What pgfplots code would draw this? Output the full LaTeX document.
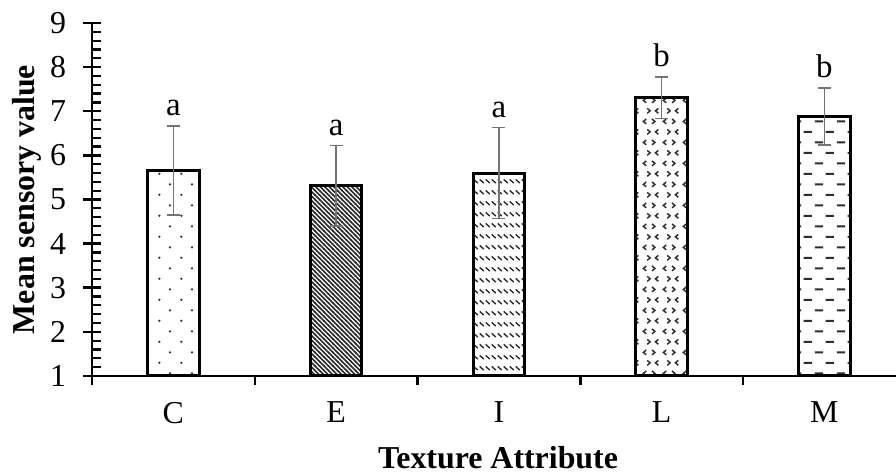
\documentclass[border=0pt]{standalone}
\usepackage{fontspec}
\setmainfont{Liberation Serif}
\usepackage{pgfplots}
\pgfplotsset{compat=1.18}
\usetikzlibrary{patterns}

\definecolor{patgray}{RGB}{45,45,45}
\definecolor{errgray}{RGB}{115,115,115}

% C: sparse staggered dots
\pgfdeclarepatternformonly{sdots}{\pgfqpoint{0bp}{0bp}}{\pgfqpoint{22bp}{21.4bp}}{\pgfqpoint{22bp}{21.4bp}}{%
  \pgfpathcircle{\pgfqpoint{5.5bp}{5.35bp}}{1.3bp}%
  \pgfpathcircle{\pgfqpoint{16.5bp}{16.05bp}}{1.3bp}%
  \pgfusepath{fill}}
% E: dense back-diagonal lines
\pgfdeclarepatternformonly{bdiag}{\pgfqpoint{-1bp}{-1bp}}{\pgfqpoint{5.5bp}{5.5bp}}{\pgfqpoint{4.5bp}{4.5bp}}{%
  \pgfsetlinewidth{1.5bp}%
  \pgfpathmoveto{\pgfqpoint{-0.5bp}{5bp}}\pgfpathlineto{\pgfqpoint{5bp}{-0.5bp}}%
  \pgfusepath{stroke}}
% I: dashed back-diagonal strokes
\pgfdeclarepatternformonly{dbdiag}{\pgfqpoint{0bp}{0bp}}{\pgfqpoint{5.7bp}{11bp}}{\pgfqpoint{5.7bp}{11bp}}{%
  \pgfsetlinewidth{1.5bp}%
  \pgfpathmoveto{\pgfqpoint{0.8bp}{9.4bp}}\pgfpathlineto{\pgfqpoint{4.9bp}{5.3bp}}%
  \pgfusepath{stroke}}
% L: chevrons
\pgfdeclarepatternformonly{chev}{\pgfqpoint{0bp}{0bp}}{\pgfqpoint{20bp}{21.4bp}}{\pgfqpoint{20bp}{21.4bp}}{%
  \pgfsetlinewidth{1.5bp}%
  \pgfpathmoveto{\pgfqpoint{6.5bp}{18.5bp}}\pgfpathlineto{\pgfqpoint{3.5bp}{16bp}}\pgfpathlineto{\pgfqpoint{6.5bp}{13.5bp}}%
  \pgfpathmoveto{\pgfqpoint{12.5bp}{18.5bp}}\pgfpathlineto{\pgfqpoint{15.5bp}{16bp}}\pgfpathlineto{\pgfqpoint{12.5bp}{13.5bp}}%
  \pgfpathmoveto{\pgfqpoint{7.5bp}{7.8bp}}\pgfpathlineto{\pgfqpoint{10.5bp}{5.3bp}}\pgfpathlineto{\pgfqpoint{7.5bp}{2.8bp}}%
  \pgfpathmoveto{\pgfqpoint{19bp}{7.8bp}}\pgfpathlineto{\pgfqpoint{16bp}{5.3bp}}\pgfpathlineto{\pgfqpoint{19bp}{2.8bp}}%
  \pgfusepath{stroke}}
% M: staggered horizontal dashes
\pgfdeclarepatternformonly{hdash}{\pgfqpoint{0bp}{0bp}}{\pgfqpoint{22bp}{21.4bp}}{\pgfqpoint{22bp}{21.4bp}}{%
  \pgfsetlinewidth{2.1bp}%
  \pgfpathmoveto{\pgfqpoint{1bp}{16bp}}\pgfpathlineto{\pgfqpoint{9.5bp}{16bp}}%
  \pgfpathmoveto{\pgfqpoint{12bp}{5.3bp}}\pgfpathlineto{\pgfqpoint{20.5bp}{5.3bp}}%
  \pgfusepath{stroke}}

\begin{document}
\begin{tikzpicture}
\path[use as bounding box] (0,0) rectangle (896bp,474bp);
\begin{axis}[
  at={(92bp,98bp)}, anchor=south west,
  scale only axis, width=804bp, height=353bp,
  xmin=-0.5, xmax=4.44, ymin=1, ymax=9,
  axis x line*=bottom, axis y line*=left,
  x axis line style={line width=2.8bp, black},
  y axis line style={line width=2.8bp, black},
  xtick={0,1,2,3,4}, xticklabels={C,E,I,L,M},
  major x tick style={draw=none},
  minor xtick={-0.5,0.5,1.5,2.5,3.5},
  minor x tick style={yshift=-4.5bp, line width=2.5bp, black},
  ytick={1,2,...,9}, minor y tick num=4,
  major y tick style={line width=2.5bp, black},
  minor y tick style={xshift=4bp, line width=2.2bp, black},
  tick align=center, major tick length=17bp, minor tick length=9bp,
  /pgf/number format/assume math mode=true,
  every tick label/.append style={font=\fontsize{32}{38}\selectfont},
  xticklabel style={yshift=-14bp},
  yticklabel style={xshift=-14bp},
  xlabel={\textbf{Texture Attribute}},
  ylabel={\textbf{Mean sensory value}},
  every axis x label/.style={at={(axis description cs:0.5,0)}, anchor=base, yshift=-92bp, xshift=4bp, font=\fontsize{32}{38}\selectfont},
  every axis y label/.style={at={(axis description cs:0,0.5)}, xshift=-65bp, rotate=90, anchor=center, font=\fontsize{32}{38}\selectfont},
  error bars/error bar style={line width=1.6bp, errgray},
  error bars/error mark options={rotate=90, mark size=6.5bp, line width=1.6bp, errgray},
]
\addplot[ybar, bar shift=0pt, bar width=0.317, draw=black, line width=3bp, pattern=sdots, pattern color=patgray,
  error bars/.cd, y dir=both, y explicit] coordinates {(0,5.66) +- (0,1.01)};
\addplot[ybar, bar shift=0pt, bar width=0.317, draw=black, line width=3bp, pattern=bdiag, pattern color=patgray,
  error bars/.cd, y dir=both, y explicit] coordinates {(1,5.31) +- (0,0.91)};
\addplot[ybar, bar shift=0pt, bar width=0.317, draw=black, line width=3bp, pattern=dbdiag, pattern color=patgray,
  error bars/.cd, y dir=both, y explicit] coordinates {(2,5.60) +- (0,1.03)};
\addplot[ybar, bar shift=0pt, bar width=0.317, draw=black, line width=3bp, pattern=chev, pattern color=patgray,
  error bars/.cd, y dir=both, y explicit] coordinates {(3,7.31) +- (0,0.47)};
\addplot[ybar, bar shift=0pt, bar width=0.317, draw=black, line width=3bp, pattern=hdash, pattern color=patgray,
  error bars/.cd, y dir=both, y explicit] coordinates {(4,6.88) +- (0,0.65)};
\addplot[draw=none, nodes near coords, point meta=explicit symbolic,
  nodes near coords style={anchor=south, font=\fontsize{33}{38}\selectfont, inner sep=2bp, yshift=8bp}]
  table[meta=label] {
x y label
0 6.67 a
1 6.22 a
2 6.63 a
3 7.78 b
4 7.53 b
};
\end{axis}
\end{tikzpicture}
\end{document}
